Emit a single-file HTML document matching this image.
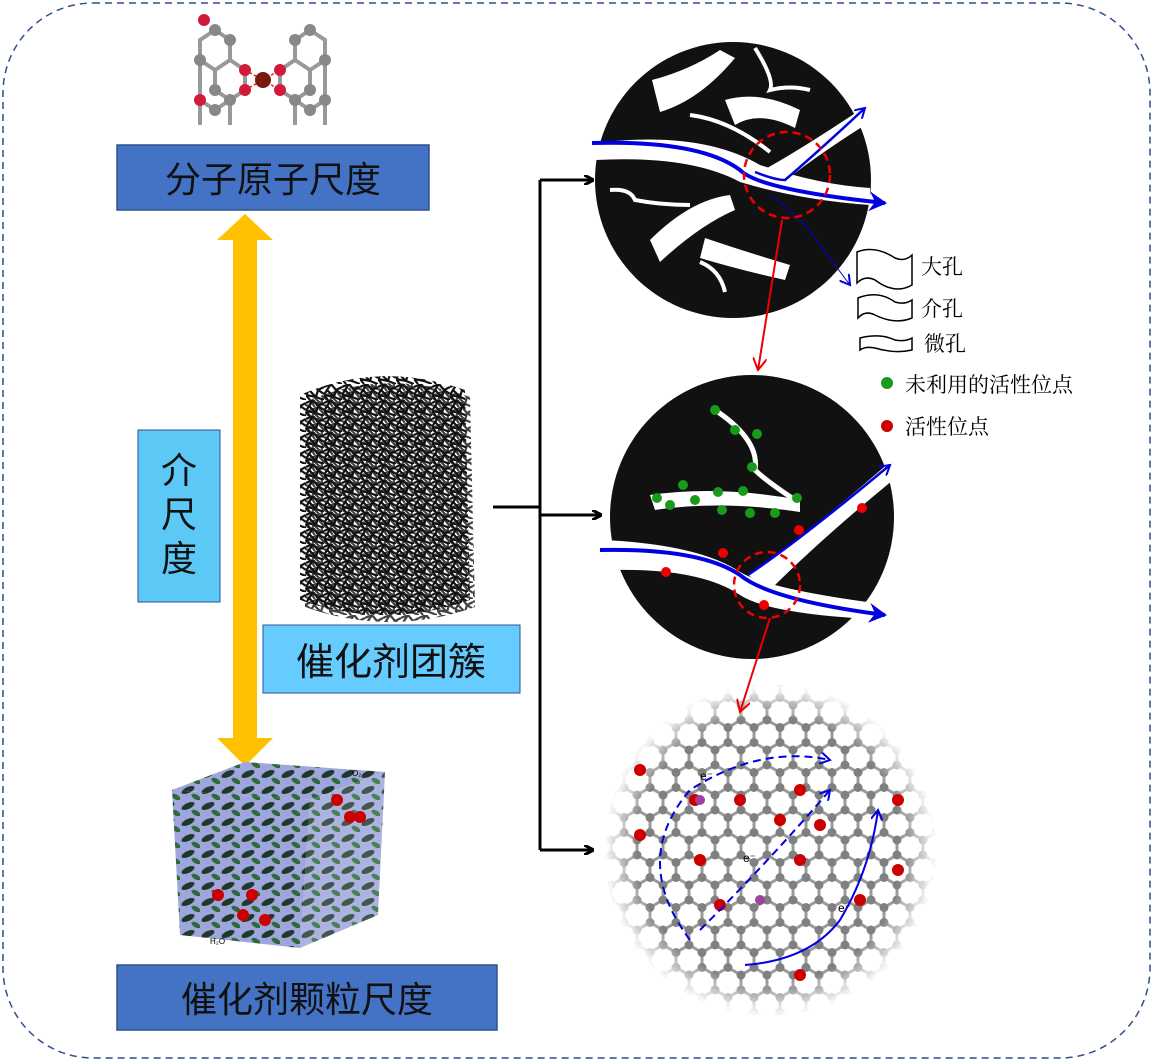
<!DOCTYPE html>
<html><head><meta charset="utf-8"><style>
body{margin:0;background:#fff;}
svg{display:block;}
text{font-family:"Liberation Serif","Noto Serif CJK SC",serif;}
.b{font-family:"Liberation Sans","Noto Sans CJK SC",sans-serif;}
</style></head><body>
<svg width="1155" height="1063" viewBox="0 0 1155 1063" xmlns="http://www.w3.org/2000/svg">
<defs>
<pattern id="mesh" width="18" height="16" patternUnits="userSpaceOnUse">
<path d="M0 3 L7 0 L12 6 L18 3 M12 6 L10 13 L0 11 M10 13 L18 16 M4 16 L0 11 M7 0 L4 -2 M12 6 L18 10 M3 6 L7 0 M3 6 L0 11 M3 6 L10 13" stroke="#111" stroke-width="2.2" fill="none"/>
</pattern>
<pattern id="hex" width="26" height="45" patternUnits="userSpaceOnUse">
<path d="M0 7.5 L13 0 L26 7.5 M0 7.5 L0 22.5 M26 7.5 L26 22.5 M0 22.5 L13 30 L26 22.5 M13 30 L13 45" stroke="#9a9a9a" stroke-width="3" fill="none"/>
<circle cx="13" cy="0" r="4.5" fill="#808080"/><circle cx="0" cy="7.5" r="4.5" fill="#808080"/><circle cx="26" cy="7.5" r="4.5" fill="#808080"/>
<circle cx="0" cy="22.5" r="4.5" fill="#808080"/><circle cx="26" cy="22.5" r="4.5" fill="#808080"/><circle cx="13" cy="30" r="4.5" fill="#808080"/><circle cx="13" cy="45" r="4.5" fill="#808080"/>
</pattern>
<pattern id="cube" width="20" height="16" patternUnits="userSpaceOnUse">
<rect width="20" height="16" fill="#9fa6dc"/>
<ellipse cx="8" cy="6" rx="7" ry="3" fill="#1f3a2a" transform="rotate(-25 8 6)"/>
<ellipse cx="16" cy="13" rx="5" ry="2.5" fill="#2d6a3a" transform="rotate(30 16 13)"/>
</pattern>
<radialGradient id="fade"><stop offset="0.8" stop-color="#fff" stop-opacity="0"/><stop offset="1" stop-color="#fff" stop-opacity="1"/></radialGradient>
<clipPath id="c3"><circle cx="770" cy="850" r="165"/></clipPath>
<marker id="ab" markerWidth="10" markerHeight="10" refX="8" refY="5" orient="auto" markerUnits="userSpaceOnUse"><path d="M0 0 L10 5 L0 10" fill="none" stroke="#000" stroke-width="3"/></marker>
<marker id="ar" markerWidth="14" markerHeight="14" refX="12" refY="7" orient="auto" markerUnits="userSpaceOnUse"><path d="M0 0 L12 7 L0 14" fill="none" stroke="#e00" stroke-width="2"/></marker>
<marker id="abl" markerWidth="20" markerHeight="20" refX="16" refY="10" orient="auto" markerUnits="userSpaceOnUse"><path d="M0 0 L18 10 L0 20 L6 10 Z" fill="#0000e0"/></marker>
<marker id="abl2" markerWidth="12" markerHeight="12" refX="10" refY="6" orient="auto" markerUnits="userSpaceOnUse"><path d="M0 0 L10 6 L0 12" fill="none" stroke="#0000e0" stroke-width="2"/></marker>
</defs>

<rect x="3" y="3" width="1147" height="1055" rx="90" fill="none" stroke="#2f4f8f" stroke-width="1.5" stroke-dasharray="7,5"/>

<!-- top molecule -->
<g stroke="#999" stroke-width="4" fill="none">
<path d="M200 40 L215 30 L230 40 L230 60 L215 70 L200 60 Z M230 60 L245 70 L245 90 L230 100 L215 90 L215 70 M200 60 L200 100 L215 110 L230 100 M200 100 L200 125 M230 100 L230 125"/>
<path d="M295 40 L310 30 L325 40 L325 60 L310 70 L295 60 Z M295 60 L280 70 L280 90 L295 100 L310 90 L310 70 M325 60 L325 100 L310 110 L295 100 M295 100 L295 125 M325 100 L325 125"/>
</g>
<path d="M245 70 L263 80 L280 70 M245 90 L263 80 L280 90" stroke="#d22" stroke-width="1.5" stroke-dasharray="3,2" fill="none"/>
<g fill="#888"><circle cx="215" cy="30" r="6"/><circle cx="230" cy="40" r="6"/><circle cx="200" cy="60" r="6"/><circle cx="230" cy="100" r="6"/><circle cx="215" cy="110" r="6"/><circle cx="310" cy="30" r="6"/><circle cx="295" cy="40" r="6"/><circle cx="325" cy="60" r="6"/><circle cx="295" cy="100" r="6"/><circle cx="310" cy="110" r="6"/><circle cx="325" cy="100" r="6"/><circle cx="215" cy="90" r="6"/><circle cx="310" cy="90" r="6"/></g>
<g fill="#d01c3a"><circle cx="204" cy="20" r="6"/><circle cx="245" cy="70" r="6"/><circle cx="245" cy="90" r="6"/><circle cx="280" cy="70" r="6"/><circle cx="280" cy="90" r="6"/><circle cx="200" cy="100" r="6"/></g>
<circle cx="263" cy="80" r="8" fill="#7a1a0a"/>

<rect x="117" y="145" width="312" height="65" fill="#4472c4" stroke="#2f528f" stroke-width="1.5"/>
<text x="273" y="192" font-size="36" text-anchor="middle" class="b" fill="#111">分子原子尺度</text>

<path d="M245 214 L273 240 L257 240 L257 738 L273 738 L245 766 L217 738 L233 738 L233 240 L217 240 Z" fill="#ffc000"/>

<rect x="138" y="430" width="82" height="172" fill="#5bc8f5" stroke="#2f528f" stroke-width="1"/>
<text x="179" y="483" font-size="36" text-anchor="middle" class="b" fill="#111">介</text>
<text x="179" y="527" font-size="36" text-anchor="middle" class="b" fill="#111">尺</text>
<text x="179" y="571" font-size="36" text-anchor="middle" class="b" fill="#111">度</text>

<!-- cluster -->
<path d="M300 395 Q380 360 465 390 L470 600 Q385 630 300 600 Z" fill="url(#mesh)"/>
<path d="M300 395 Q380 360 465 390 L470 600 Q385 630 300 600 Z" fill="url(#mesh)" transform="translate(5 7)" opacity="0.8"/>

<rect x="263" y="625" width="257" height="68" fill="#66ccff" stroke="#2f528f" stroke-width="1"/>
<text x="391" y="675" font-size="38" text-anchor="middle" class="b" fill="#111">催化剂团簇</text>

<!-- cube -->
<path d="M172 790 L245 762 L385 772 L310 800 Z" fill="url(#cube)"/>
<path d="M172 790 L310 800 L300 948 L180 935 Z" fill="url(#cube)"/>
<path d="M310 800 L385 772 L378 915 L300 948 Z" fill="url(#cube)" opacity="0.85"/>
<g fill="#c00"><circle cx="337" cy="800" r="6"/><circle cx="350" cy="817" r="6"/><circle cx="360" cy="817" r="6"/><circle cx="218" cy="895" r="6"/><circle cx="252" cy="895" r="6"/><circle cx="243" cy="915" r="6"/><circle cx="265" cy="920" r="6"/></g>
<text x="352" y="776" font-size="8" class="b">O₂</text>
<text x="210" y="944" font-size="8" class="b">H₂O</text>

<rect x="117" y="965" width="380" height="65" fill="#4472c4" stroke="#2f528f" stroke-width="1.5"/>
<text x="307" y="1012" font-size="36" text-anchor="middle" class="b" fill="#111">催化剂颗粒尺度</text>

<path d="M493 507 L540 507 M540 180 L540 850" stroke="#000" stroke-width="3" fill="none"/>
<path d="M540 180 L592 180" stroke="#000" stroke-width="3" marker-end="url(#ab)"/>
<path d="M540 515 L600 515" stroke="#000" stroke-width="3" marker-end="url(#ab)"/>
<path d="M540 850 L592 850" stroke="#000" stroke-width="3" marker-end="url(#ab)"/>

<!-- circle 1 -->
<circle cx="733" cy="180" r="138" fill="#111"/>
<g fill="#fff">
<path d="M595 143 Q700 130 760 165 Q820 185 870 188 L870 205 Q800 200 740 182 Q690 155 595 160 Z"/>
<path d="M760 172 Q800 150 860 110 L865 125 Q810 160 780 185 Z"/>
<path d="M652 80 Q690 70 720 50 L735 58 Q700 100 660 112 Z"/>
<path d="M725 100 Q760 90 800 110 L795 128 Q760 110 735 125 Z"/>
<path d="M650 240 Q690 200 730 195 L735 210 Q700 225 660 262 Z"/>
<path d="M705 238 Q740 250 790 265 L785 280 Q740 270 700 258 Z"/>
</g>
<g stroke="#fff" stroke-width="4" fill="none">
<path d="M755 48 Q775 80 770 90 Q790 85 810 90"/>
<path d="M690 115 Q730 120 770 152"/>
<path d="M610 190 Q630 188 635 200 Q660 205 690 205"/>
<path d="M700 262 Q720 270 725 292"/>
</g>
<path d="M592 143 Q700 140 740 170 Q760 190 885 203" stroke="#0000e0" stroke-width="4" fill="none" marker-end="url(#abl)"/>
<path d="M755 172 Q775 180 785 180 Q820 150 865 108" stroke="#0000e0" stroke-width="2.5" fill="none" marker-end="url(#abl2)"/>
<path d="M770 195 Q800 215 820 245 L850 285" stroke="#0000e0" stroke-width="1" fill="none" marker-end="url(#abl2)"/>
<circle cx="787" cy="175" r="43" fill="none" stroke="#e00" stroke-width="2.5" stroke-dasharray="8,5"/>
<path d="M782 220 L758 370" stroke="#e00" stroke-width="2" marker-end="url(#ar)"/>

<!-- legend -->
<g stroke="#000" stroke-width="1.5" fill="#fff">
<path d="M857 252 Q875 245 895 258 Q905 262 912 255 L912 285 Q895 295 875 280 Q865 275 857 283 Z"/>
<path d="M858 298 Q878 290 895 302 Q905 305 912 300 L912 318 Q895 325 875 315 Q865 310 858 318 Z"/>
<path d="M860 338 Q880 333 895 340 Q905 342 912 338 L912 350 Q895 354 875 348 Q865 346 860 350 Z"/>
</g>
<text x="921" y="274" font-size="21">大孔</text>
<text x="921" y="316" font-size="21">介孔</text>
<text x="924" y="351" font-size="21">微孔</text>
<circle cx="887" cy="383" r="6" fill="#1a9a1a"/>
<text x="905" y="392" font-size="21">未利用的活性位点</text>
<circle cx="887" cy="426" r="6" fill="#c00"/>
<text x="905" y="434" font-size="21">活性位点</text>

<!-- circle 2 -->
<circle cx="752" cy="517" r="142" fill="#111"/>
<g fill="#fff">
<path d="M605 540 Q700 545 740 572 Q770 590 890 605 L890 620 Q770 615 740 595 Q700 568 612 570 Z"/>
<path d="M748 575 Q800 540 890 462 L893 480 Q820 540 770 590 Z"/>
<path d="M650 495 Q720 485 800 500 L800 512 Q720 500 655 510 Z"/>
</g>
<path d="M715 410 Q760 440 755 470 Q765 480 795 500" stroke="#fff" stroke-width="5" fill="none"/>
<path d="M600 550 Q700 548 740 575 Q770 600 885 615" stroke="#0000e0" stroke-width="4" fill="none" marker-end="url(#abl)"/>
<path d="M748 575 Q800 540 890 465" stroke="#0000e0" stroke-width="2.5" fill="none" marker-end="url(#abl2)"/>
<g fill="#1a9a1a"><circle cx="715" cy="410" r="5"/><circle cx="735" cy="430" r="5"/><circle cx="757" cy="434" r="5"/><circle cx="752" cy="467" r="5"/><circle cx="657" cy="498" r="5"/><circle cx="683" cy="485" r="5"/><circle cx="695" cy="500" r="5"/><circle cx="718" cy="492" r="5"/><circle cx="743" cy="491" r="5"/><circle cx="670" cy="505" r="5"/><circle cx="722" cy="510" r="5"/><circle cx="750" cy="513" r="5"/><circle cx="775" cy="513" r="5"/><circle cx="797" cy="498" r="5"/></g>
<g fill="#e00"><circle cx="666" cy="572" r="5"/><circle cx="723" cy="553" r="5"/><circle cx="799" cy="530" r="5"/><circle cx="862" cy="508" r="5"/><circle cx="764" cy="605" r="5"/></g>
<circle cx="767" cy="585" r="33" fill="none" stroke="#e00" stroke-width="2.5" stroke-dasharray="8,5"/>

<!-- circle 3 graphene -->
<g clip-path="url(#c3)">
<rect x="600" y="680" width="340" height="340" fill="#fff"/>
<rect x="600" y="680" width="340" height="340" fill="url(#hex)"/>
<circle cx="770" cy="850" r="166" fill="url(#fade)"/>
<g fill="#c00"><circle cx="640" cy="770" r="6"/><circle cx="695" cy="800" r="6"/><circle cx="740" cy="800" r="6"/><circle cx="780" cy="820" r="6"/><circle cx="800" cy="790" r="6"/><circle cx="640" cy="835" r="6"/><circle cx="700" cy="860" r="6"/><circle cx="720" cy="905" r="6"/><circle cx="800" cy="860" r="6"/><circle cx="820" cy="825" r="6"/><circle cx="898" cy="800" r="6"/><circle cx="898" cy="870" r="6"/><circle cx="860" cy="900" r="6"/><circle cx="800" cy="975" r="6"/></g>
<circle cx="700" cy="800" r="5" fill="#a040a0"/><circle cx="760" cy="900" r="5" fill="#a040a0"/>
</g>
<path d="M770 618 L740 712" stroke="#e00" stroke-width="2" marker-end="url(#ar)"/>
<path d="M690 940 Q630 860 690 790 Q760 745 830 760" stroke="#0000e0" stroke-width="2" stroke-dasharray="8,5" fill="none" marker-end="url(#abl2)"/>
<path d="M700 930 Q770 860 830 790" stroke="#0000e0" stroke-width="2" stroke-dasharray="8,5" fill="none" marker-end="url(#abl2)"/>
<path d="M745 965 Q810 960 840 920 Q870 870 878 810" stroke="#0000e0" stroke-width="2" fill="none" marker-end="url(#abl2)"/>
<text x="700" y="780" font-size="12" class="b" fill="#000">e⁻</text>
<text x="743" y="862" font-size="12" class="b" fill="#000">e⁻</text>
<text x="838" y="912" font-size="12" class="b" fill="#000">e⁻</text>
</svg>
</body></html>
